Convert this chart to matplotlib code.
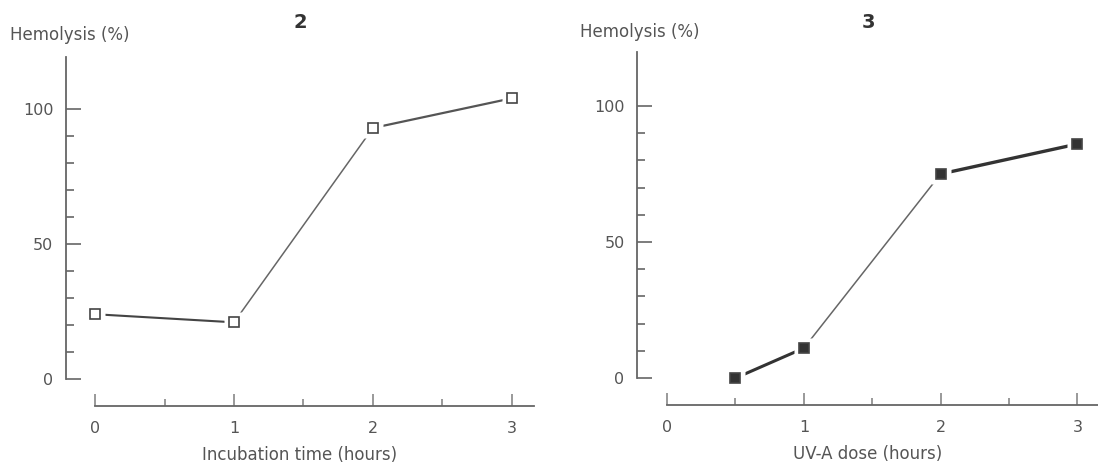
import numpy as np
import matplotlib
matplotlib.use('Agg')
import matplotlib.pyplot as plt
from matplotlib.ticker import FixedLocator

# Figure 2: hemolysis vs incubation time
incubation_hours = [0, 1, 2, 3]
hemolysis_incubation = [24, 21, 93, 104]

# Figure 3: hemolysis vs UV-A dose
uva_hours = [0.5, 1, 2, 3]
hemolysis_uva = [0, 11, 75, 86]

x_ticks = [0, 1, 2, 3]
x_minor = [0.5, 1.5, 2.5]
y_ticks = [0, 50, 100]
y_minor = [10, 20, 30, 40, 60, 70, 80, 90]

text_color = '#555555'
plt.rcParams['font.family'] = ['DejaVu Sans']

fig = plt.figure(figsize=(10.98, 4.63), dpi=100)

# axes placed so the spines sit where the original ones are
ax1 = fig.add_axes([66 / 1098, 1 - 406 / 463, (534 - 66) / 1098, (406 - 57) / 463])
ax2 = fig.add_axes([637 / 1098, 1 - 405 / 463, (1098 - 637) / 1098, (405 - 52) / 463])


def style_axes(ax, xlim, ylim, xlabel):
    ax.set_xlim(*xlim)
    ax.set_ylim(*ylim)
    for side in ['top', 'right']:
        ax.spines[side].set_visible(False)
    ax.spines['left'].set_bounds(0, ylim[1])
    ax.spines['bottom'].set_bounds(0, xlim[1])
    for side in ['left', 'bottom']:
        ax.spines[side].set_color('#666666')
        ax.spines[side].set_linewidth(1.3)
    ax.set_xticks(x_ticks)
    ax.set_yticks(y_ticks)
    ax.xaxis.set_minor_locator(FixedLocator(x_minor))
    ax.yaxis.set_minor_locator(FixedLocator(y_minor))
    ax.tick_params(axis='y', which='major', direction='in', length=11, width=1.2,
                   color='#666666', labelcolor=text_color, labelsize=11.5, pad=9)
    ax.tick_params(axis='y', which='minor', direction='in', length=6, width=1.2,
                   color='#666666')
    ax.tick_params(axis='x', which='major', direction='in', length=9, width=1.2,
                   color='#888888', labelcolor=text_color, labelsize=11.5, pad=11)
    ax.tick_params(axis='x', which='minor', direction='in', length=5, width=1.2,
                   color='#888888')
    ax.set_xlabel(xlabel, color=text_color, fontsize=12, labelpad=7)
    ax.patch.set_alpha(0)


def draw_series(ax, xs, ys, widths, colors, face):
    for i in range(len(xs) - 1):
        ax.plot(xs[i:i + 2], ys[i:i + 2], color=colors[i], lw=widths[i],
                solid_capstyle='butt', zorder=1, clip_on=False)
    # white halo leaves a small gap between lines and markers
    ax.plot(xs, ys, ls='none', marker='s', ms=15, mfc='white', mec='none',
            zorder=2, clip_on=False)
    ax.plot(xs, ys, ls='none', marker='s', ms=6.5, mfc=face, mec='#444444',
            mew=1.2, zorder=3, clip_on=False)


style_axes(ax1, (-0.21, 3.16), (-10, 119.3), 'Incubation time (hours)')
style_axes(ax2, (-0.22, 3.15), (-9.9, 119.8), 'UV-A dose (hours)')

draw_series(ax1, incubation_hours, hemolysis_incubation,
            [1.5, 1.1, 1.6], ['#444444', '#666666', '#555555'], 'white')
draw_series(ax2, uva_hours, hemolysis_uva,
            [2.2, 1.1, 2.4], ['#333333', '#666666', '#333333'], '#333333')

fig.text(10 / 1098, 1 - 35 / 463, 'Hemolysis (%)', fontsize=12,
         color=text_color, ha='left', va='center')
fig.text(580 / 1098, 1 - 32 / 463, 'Hemolysis (%)', fontsize=12,
         color=text_color, ha='left', va='center')
fig.text(300 / 1098, 1 - 23 / 463, '2', fontsize=14, fontweight='bold',
         color='#333333', ha='center', va='center')
fig.text(868 / 1098, 1 - 22 / 463, '3', fontsize=14, fontweight='bold',
         color='#333333', ha='center', va='center')

fig.savefig('out.png', dpi=100)
